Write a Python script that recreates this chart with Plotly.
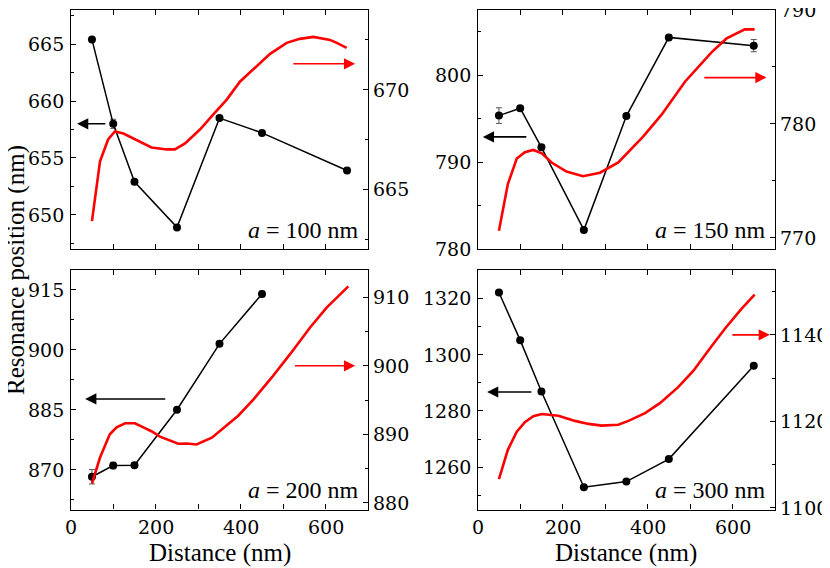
import plotly.graph_objects as go

# ---------------- data ----------------
dist_exp = [50, 100, 150, 250, 350, 450, 650]
dist_exp_200 = [50, 100, 150, 250, 350, 450]

exp_100 = [665.4, 658.0, 652.9, 648.9, 658.5, 657.2, 653.9]
err_100 = [0.2, 0.4, 0.2, 0.2, 0.2, 0.2, 0.2]
exp_150 = [795.35, 796.2, 791.7, 782.2, 795.3, 804.35, 803.4]
err_150 = [0.9, 0.3, 0.3, 0.2, 0.2, 0.3, 0.7]
exp_200 = [868.2, 871.0, 871.1, 885.0, 901.5, 914.0]
err_200 = [1.8, 0.8, 0.6, 0.4, 0.5, 0.7]
exp_300 = [1322.0, 1305.1, 1286.9, 1252.9, 1254.9, 1262.9, 1296.0]
err_300 = [0.5, 0.5, 0.5, 0.5, 0.5, 0.5, 0.5]

sim_x_100 = [50, 69, 88, 104, 124, 147, 171, 190, 226, 245, 269, 304, 335, 367,
             398, 434, 469, 508, 539, 571, 610, 626, 649]
sim_100 = [663.4, 666.4, 667.5, 667.9, 667.8, 667.55, 667.3, 667.1, 667.0, 667.0,
           667.3, 668.0, 668.75, 669.5, 670.4, 671.1, 671.8, 672.35, 672.55, 672.65,
           672.5, 672.35, 672.1]

sim_x_150 = [50, 71, 92, 111, 131, 151, 174, 209, 248, 288, 331, 390, 433, 488,
             551, 586, 629, 652]
sim_150 = [770.6, 774.7, 776.95, 777.5, 777.7, 777.4, 776.6, 775.8, 775.4, 775.7,
           776.6, 778.9, 780.8, 783.7, 786.3, 787.5, 788.3, 788.3]

sim_x_200 = [50, 69, 92, 108, 128, 151, 171, 191, 210, 230, 253, 273, 296, 332,
             355, 394, 430, 473, 516, 563, 602, 653]
sim_200 = [882.8, 886.6, 890.0, 891.0, 891.6, 891.6, 891.0, 890.4, 889.65, 889.2,
           888.6, 888.65, 888.5, 889.5, 890.7, 892.7, 895.1, 898.3, 901.7, 905.6,
           908.5, 911.6]

sim_x_300 = [50, 71, 92, 111, 131, 151, 190, 229, 261, 292, 331, 355, 394, 429,
             472, 508, 543, 582, 621, 652]
sim_300 = [1106.6, 1113.4, 1117.6, 1119.8, 1121.2, 1121.7, 1121.3, 1120.1, 1119.4,
           1119.0, 1119.2, 1120.1, 1121.9, 1124.2, 1127.9, 1131.7, 1136.4, 1141.4,
           1146.0, 1149.3]

panel_labels = ["100", "150", "200", "300"]
left_ranges = [[647, 668], [780, 807.5], [860, 920], [1245, 1330]]
left_tick_vals = [[650, 655, 660, 665], [780, 790, 800], [870, 885, 900, 915],
                  [1260, 1280, 1300, 1320]]
left_minor_vals = [[647.5, 652.5, 657.5, 662.5, 667.5], [785, 795, 805],
                   [862.5, 877.5, 892.5, 907.5], [1250, 1270, 1290, 1310]]
right_ranges = [[662, 674], [769, 790], [879, 914], [1099.6, 1155]]
right_tick_vals = [[665, 670], [770, 780, 790], [880, 890, 900, 910],
                   [1100, 1120, 1140]]
right_minor_vals = [[662.5, 667.5, 672.5], [775, 785], [885, 895, 905],
                    [1110, 1130, 1150]]
x_ticks = [0, 200, 400, 600]
x_minor_ticks = [100, 300, 500, 700]

# arrows: (y_left, tail_x, head_x), (y_right, tail_x, head_x)
black_arrows = [(658.0, 85, 15), (792.9, 118, 12), (887.7, 226, 34), (1286.7, 130, 22)]
red_arrows = [(671.3, 520, 669), (784.06, 530, 680), (900.0, 524, 669), (1140.0, 596, 688)]

# ---------------- figure ----------------
# the page body has an 8 px margin, so the figure is 8 px smaller each way
OFF = 8
W, H = 830 - OFF, 568 - OFF
FONT = "Times New Roman"
TICK_FONT = "DejaVu Serif"
TICK_SIZE = 19


def px_x(p):
    return (p - OFF) / W


def px_y(p):
    return 1 - (p - OFF) / H


xdoms = [[px_x(70.7), px_x(368.3)], [px_x(477.7), px_x(775.0)]]
ydoms = [[px_y(249), px_y(10)], [px_y(509.5), px_y(270)]]

fig = go.Figure()

exp_sets = [(dist_exp, exp_100, err_100), (dist_exp, exp_150, err_150),
            (dist_exp_200, exp_200, err_200), (dist_exp, exp_300, err_300)]
sim_sets = [(sim_x_100, sim_100), (sim_x_150, sim_150), (sim_x_200, sim_200),
            (sim_x_300, sim_300)]

tick_font = dict(family=TICK_FONT, size=TICK_SIZE, color="black")
layout = {}
annotations = []
for i in range(4):
    row, col = i // 2, i % 2
    xn = i + 1
    yl = 2 * i + 1
    yr = 2 * i + 2
    xname = "x" if xn == 1 else f"x{xn}"
    ylname = "y" if yl == 1 else f"y{yl}"
    yrname = f"y{yr}"
    xkey = "xaxis" if xn == 1 else f"xaxis{xn}"
    ylkey = "yaxis" if yl == 1 else f"yaxis{yl}"
    yrkey = f"yaxis{yr}"

    sx, sy = sim_sets[i]
    fig.add_trace(go.Scatter(x=sx, y=sy, mode="lines",
                             line=dict(color="#ff0000", width=2.6),
                             xaxis=xname, yaxis=yrname, showlegend=False))
    ex, ey, ee = exp_sets[i]
    fig.add_trace(go.Scatter(x=ex, y=ey, mode="lines+markers",
                             line=dict(color="black", width=1.5),
                             marker=dict(color="black", size=8),
                             error_y=dict(type="data", array=ee, color="#555555",
                                          thickness=1, width=3),
                             xaxis=xname, yaxis=ylname, showlegend=False))

    bottom = row == 1
    layout[xkey] = dict(
        domain=xdoms[col], anchor=ylname, range=[0, 700], automargin=False,
        tickvals=x_ticks, ticks="inside", ticklen=5, tickwidth=1.2,
        tickcolor="black", showticklabels=False,
        showline=True, linecolor="black", linewidth=1.3, mirror="allticks",
        showgrid=False, zeroline=False,
        minor=dict(tickvals=x_minor_ticks, ticks="inside", ticklen=5,
                   tickwidth=1.2, tickcolor="black"),
    )
    layout[ylkey] = dict(
        domain=ydoms[row], anchor=xname, range=left_ranges[i], automargin=False,
        tickvals=left_tick_vals[i], ticks="inside", ticklen=5, tickwidth=1.2,
        tickcolor="black", showline=True, linecolor="black", linewidth=1.3,
        showgrid=False, zeroline=False, showticklabels=False,
        minor=dict(tickvals=left_minor_vals[i], ticks="inside", ticklen=3,
                   tickwidth=1.2, tickcolor="black"),
    )
    layout[yrkey] = dict(
        domain=ydoms[row], anchor=xname, overlaying=ylname, side="right",
        range=right_ranges[i], automargin=False, tickvals=right_tick_vals[i],
        ticks="inside", ticklen=5,
        tickwidth=1.2, tickcolor="black", showline=True, linecolor="black",
        linewidth=1.3, showgrid=False, zeroline=False, showticklabels=False,
        minor=dict(tickvals=right_minor_vals[i], ticks="inside", ticklen=3,
                   tickwidth=1.2, tickcolor="black"),
    )

    # tick labels placed on the axes' own scales
    for v in left_tick_vals[i]:
        annotations.append(dict(
            text=str(v), xref=f"{xname} domain", yref=ylname, x=0, y=v,
            xanchor="right", yanchor="middle", xshift=-5, showarrow=False,
            font=tick_font))
    for v in right_tick_vals[i]:
        annotations.append(dict(
            text=str(v), xref=f"{xname} domain", yref=yrname, x=1, y=v,
            xanchor="left", yanchor="middle", xshift=3, showarrow=False,
            font=tick_font))
    if bottom:
        for v in x_ticks:
            annotations.append(dict(
                text=str(v), xref=xname, yref=f"{ylname} domain", x=v, y=0,
                xanchor="center", yanchor="top", yshift=-4, showarrow=False,
                font=tick_font))
        annotations.append(dict(
            text="Distance (nm)", xref=f"{xname} domain", yref="paper",
            x=0.5, y=px_y(553), xanchor="center", yanchor="middle",
            showarrow=False, font=dict(family=FONT, size=25, color="black")))

    annotations.append(dict(
        text=f"<i>a</i> = {panel_labels[i]} nm", xref=f"{xname} domain",
        yref=f"{ylname} domain", x=0.975, y=0.08, xanchor="right", yanchor="middle",
        showarrow=False, font=dict(family=FONT, size=24, color="black")))
    by, bt, bh = black_arrows[i]
    annotations.append(dict(
        x=bh, y=by, ax=bt, ay=by, xref=xname, yref=ylname, axref=xname,
        ayref=ylname, text="", showarrow=True, arrowhead=2, arrowsize=1.4,
        arrowwidth=1.6, arrowcolor="black"))
    ry, rt, rh = red_arrows[i]
    annotations.append(dict(
        x=rh, y=ry, ax=rt, ay=ry, xref=xname, yref=yrname, axref=xname,
        ayref=yrname, text="", showarrow=True, arrowhead=2, arrowsize=1.4,
        arrowwidth=1.6, arrowcolor="#ff0000"))

annotations.append(dict(
    text="Resonance position (nm)", xref="paper", yref="paper",
    x=px_x(16), y=px_y(270), textangle=-90, showarrow=False,
    xanchor="center", yanchor="middle",
    font=dict(family=FONT, size=25, color="black")))

fig.update_layout(
    template="none",
    width=W, height=H,
    margin=dict(l=0, r=0, t=0, b=0, autoexpand=False),
    paper_bgcolor="white", plot_bgcolor="white",
    font=dict(family=FONT, size=TICK_SIZE, color="black"),
    annotations=annotations,
    **layout,
)

fig.write_html("out.html")
